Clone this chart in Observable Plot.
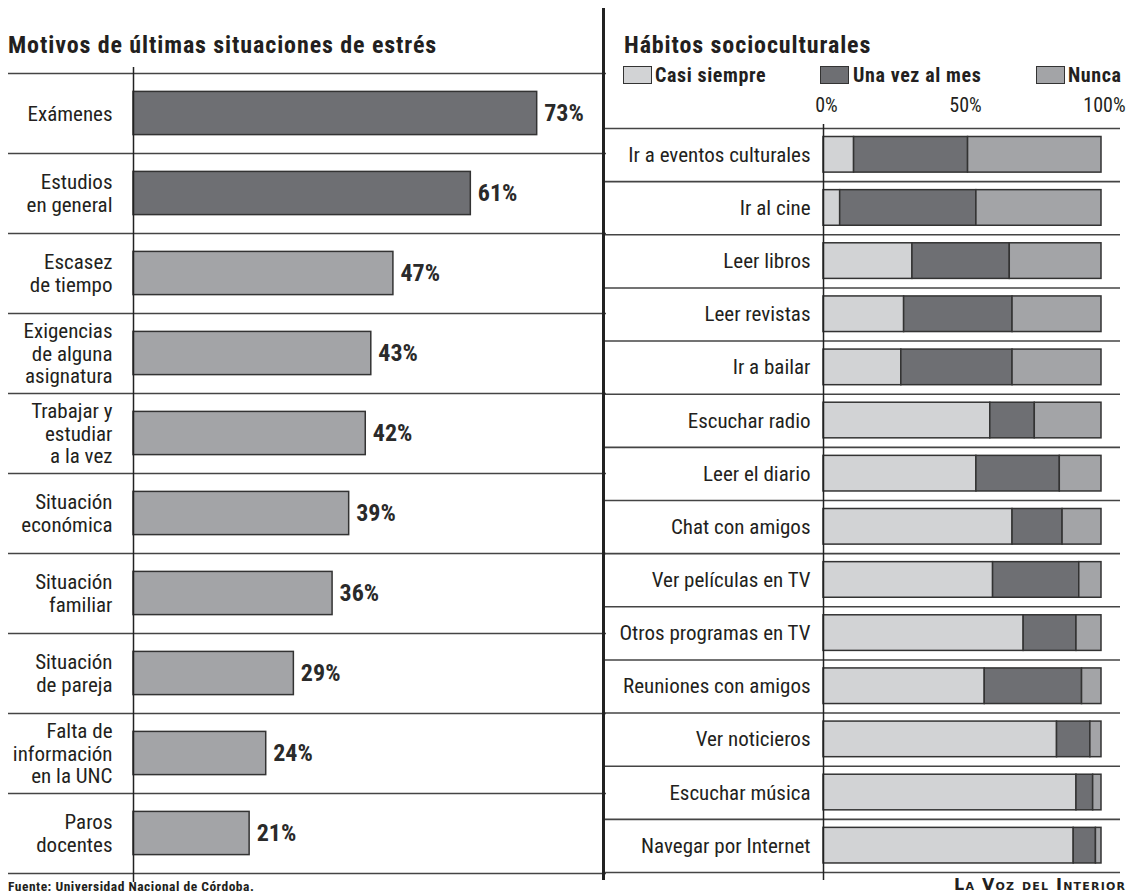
<!DOCTYPE html>
<html><head><meta charset="utf-8">
<script src="https://cdn.jsdelivr.net/npm/d3@7"></script>
<script src="https://cdn.jsdelivr.net/npm/@observablehq/plot@0.6"></script>
<style>
body{margin:0;background:#fff;}
#wrap{position:relative;width:1127px;height:894px;overflow:hidden;color:#231f20;
 font-family:"Roboto Condensed","Liberation Sans Narrow","DejaVu Sans Condensed","Arial Narrow",sans-serif;}
.abs{position:absolute;white-space:nowrap;}
.title{font-weight:bold;font-size:24px;line-height:28px;letter-spacing:0.9px;}
.sw{position:absolute;width:27px;height:16px;border:1.5px solid #333;}
.lg{position:absolute;font-weight:bold;font-size:20px;line-height:22px;letter-spacing:0.6px;}
</style></head><body><div id="wrap"></div>
<script>
// ---------- data ----------
const stressCategories = ["Exámenes","Estudios\nen general","Escasez\nde tiempo","Exigencias\nde alguna\nasignatura","Trabajar y\nestudiar\na la vez","Situación\neconómica","Situación\nfamiliar","Situación\nde pareja","Falta de\ninformación\nen la UNC","Paros\ndocentes"];
const stressValues = [73, 61, 47, 43, 42, 39, 36, 29, 24, 21];

const habitCategories = ["Ir a eventos culturales","Ir al cine","Leer libros","Leer revistas","Ir a bailar","Escuchar radio","Leer el diario","Chat con amigos","Ver películas en TV","Otros programas en TV","Reuniones con amigos","Ver noticieros","Escuchar música","Navegar por Internet"];
const casiSiempre = [11, 6, 32, 29, 28, 60, 55, 68, 61, 72, 58, 84, 91, 90];
const unaVezAlMes = [41, 49, 35, 39, 40, 16, 30, 18, 31, 19, 35, 12, 6, 8];
const nunca =       [48, 45, 33, 32, 32, 24, 15, 14, 8, 9, 7, 4, 3, 2];
const seriesNames = ["Casi siempre","Una vez al mes","Nunca"];
const tickValues = [0, 50, 100];
const tickLabels = ["0%","50%","100%"];

// ---------- styles ----------
const FONT = '"Roboto Condensed","Liberation Sans Narrow","DejaVu Sans Condensed","Arial Narrow",sans-serif';
const DARK = "#6e6f73", MID = "#a3a4a7", LIGHT = "#d2d3d5", INK = "#231f20", EDGE = "#333";

const wrap = document.getElementById("wrap");
function place(el, left, top){ const d=document.createElement("div"); d.className="abs"; d.style.left=left+"px"; d.style.top=top+"px"; d.appendChild(el); wrap.appendChild(d); return d; }
function html(h, cls, left, top, extra){ const d=document.createElement("div"); d.className="abs "+(cls||""); d.innerHTML=h; d.style.left=left+"px"; d.style.top=top+"px"; if(extra) Object.assign(d.style, extra); wrap.appendChild(d); return d; }

// ---------- left chart ----------
const stressData = stressCategories.map((c,i)=>({cat:c, value:stressValues[i], i}));
const left = Plot.plot({
  width: 606, height: 894,
  marginLeft: 8, marginRight: 0, marginTop: 67, marginBottom: 12,
  x: {domain:[0,100], range:[133,686], axis:null},
  y: {domain:[0,10], range:[73,873], axis:null},
  style: {fontFamily: FONT, color: INK, overflow:"visible", background:"transparent"},
  marks: [
    Plot.ruleY(d3.range(stressCategories.length + 1), {stroke:"#444", strokeWidth:1.6}),
    Plot.rectX(stressData, {x1:0, x2:"value", y1:d=>d.i+0.23, y2:d=>d.i+0.77,
      fill:d=>d.i<2?DARK:MID, stroke:EDGE, strokeWidth:1.5}),
    Plot.ruleX([0], {stroke:"#222", strokeWidth:1.5}),
    Plot.text(stressData, {x:"value", y:d=>d.i+0.5, text:d=>d.value+"%", textAnchor:"start", dx:7,
      fontSize:24, fontWeight:"bold", fill:"#2a2a2a", letterSpacing:1}),
    Plot.text(stressData, {x:0, y:d=>d.i+0.5, text:"cat", textAnchor:"end", dx:-21,
      fontSize:21, lineHeight:1.08, fill:INK})
  ]
});
place(left, 0, 0);

// ---------- right chart ----------
const habitData = [];
habitCategories.forEach((c,i)=>{
  const vals = [casiSiempre[i], unaVezAlMes[i], nunca[i]];
  const ends = d3.cumsum(vals);
  seriesNames.forEach((s,k)=>habitData.push({cat:c, i, serie:s, x1: ends[k]-vals[k], x2: ends[k]}));
});
const right = Plot.plot({
  width: 527, height: 894,
  marginLeft: 3, marginRight: 7, marginTop: 124, marginBottom: 14,
  x: {domain:[0,100], range:[223,501]},
  y: {domain:[0,14], range:[128,872], axis:null},
  color: {domain: seriesNames, range:[LIGHT, DARK, MID]},
  style: {fontFamily: FONT, color: INK, overflow:"visible", background:"transparent"},
  marks: [
    Plot.ruleY(d3.range(habitCategories.length + 1), {stroke:"#444", strokeWidth:1.6}),
    Plot.rectX(habitData, {x1:"x1", x2:"x2", y1:d=>d.i+0.16, y2:d=>d.i+0.83,
      fill:"serie", stroke:EDGE, strokeWidth:1.5}),
    Plot.ruleX([0], {stroke:"#222", strokeWidth:1.5}),
    Plot.axisX({anchor:"top", ticks: tickValues, tickFormat:(d)=>tickLabels[tickValues.indexOf(d)],
      tickSize:0, tickPadding:13, fontSize:20, dx:3, label:null}),
    Plot.text(habitCategories, {x:0, y:(d,i)=>i+0.5, text:d=>d, textAnchor:"end", dx:-13,
      fontSize:21, fill:INK})
  ]
});
place(right, 600, 0);

// separator
const sep = document.createElement("div");
Object.assign(sep.style,{position:"absolute",left:"602px",top:"8px",width:"2.5px",height:"872px",background:"#222"});
wrap.appendChild(sep);

// ---------- titles ----------
html("Motivos de últimas situaciones de estrés","title",8,31);
html("Hábitos socioculturales","title",624,31);

// ---------- legend ----------
const swatchLeft = [623, 820, 1036];
const textLeft = [655, 853, 1068];
seriesNames.forEach((s,k)=>{
  const sw=document.createElement("div"); sw.className="sw";
  sw.style.left=swatchLeft[k]+"px"; sw.style.top="66px"; sw.style.background=[LIGHT,DARK,MID][k];
  wrap.appendChild(sw);
  html(s,"lg",textLeft[k],64);
});

// ---------- footer ----------
html("Fuente: Universidad Nacional de Córdoba.","",8,878,{fontSize:"13.5px",fontWeight:"bold",letterSpacing:"0.5px"});
html("La Voz del Interior","",954,875,{fontSize:"16px",fontWeight:"bold",fontVariant:"small-caps",
  fontFamily:'"DejaVu Sans",sans-serif',letterSpacing:"1.2px"});
</script></body></html>
